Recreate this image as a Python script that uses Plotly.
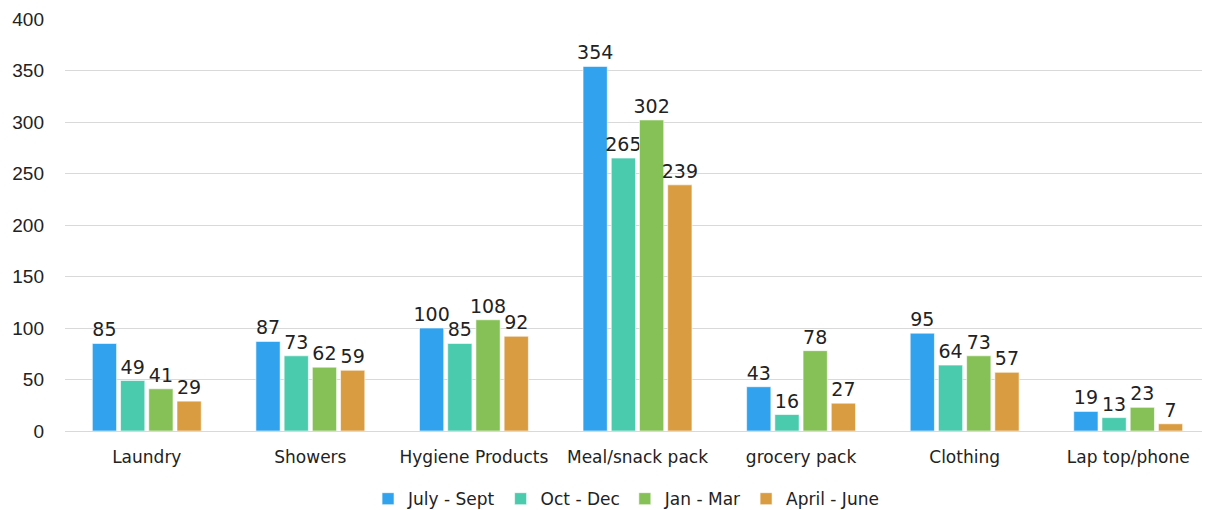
import plotly.graph_objects as go

categories = ["Laundry", "Showers", "Hygiene Products", "Meal/snack pack", "grocery pack", "Clothing", "Lap top/phone"]
series_names = ["July - Sept", "Oct - Dec", "Jan - Mar", "April - June"]
july_sept = [85, 87, 100, 354, 43, 95, 19]
oct_dec = [49, 73, 85, 265, 16, 64, 13]
jan_mar = [41, 62, 108, 302, 78, 73, 23]
april_june = [29, 59, 92, 239, 27, 57, 7]
colors = ["#31A3EE", "#4BCBAD", "#86C157", "#DA9C40"]

font_main = "'DejaVu Sans', sans-serif"

fig = go.Figure()
for name, vals, c in zip(series_names, [july_sept, oct_dec, jan_mar, april_june], colors):
    fig.add_trace(go.Bar(
        x=categories, y=vals, name=name,
        marker=dict(color=c, line=dict(color="rgba(255,255,255,0.6)", width=1)),
        text=[str(v) for v in vals], textposition="outside",
        textfont=dict(family=font_main, size=19, color="#222222"),
        constraintext="none",
        cliponaxis=False,
    ))

fig.update_layout(
    width=1210, height=510,
    margin=dict(l=57, r=8, t=11, b=87, autoexpand=False),
    plot_bgcolor="white", paper_bgcolor="white",
    barmode="group", bargap=0.31, bargroupgap=0.14,
    showlegend=True,
    legend=dict(orientation="h", x=0.49, xanchor="center",
                yref="container", y=0.037, yanchor="middle",
                font=dict(family=font_main, size=17, color="#222222"),
                traceorder="normal", itemwidth=30),
    xaxis=dict(tickfont=dict(family=font_main, size=17, color="#222222"),
               showline=True, linecolor="#D9D9D9", linewidth=1, ticks="",
               ticklabelstandoff=11, automargin=False),
    yaxis=dict(range=[0, 400], dtick=50, showgrid=True, gridcolor="#D9D9D9",
               tickfont=dict(family="'Liberation Sans', Arial, sans-serif", size=19, color="#222222"),
               zeroline=False, ticklen=0, ticks="", ticklabelstandoff=20, automargin=False),
)

fig.write_html("out.html")
